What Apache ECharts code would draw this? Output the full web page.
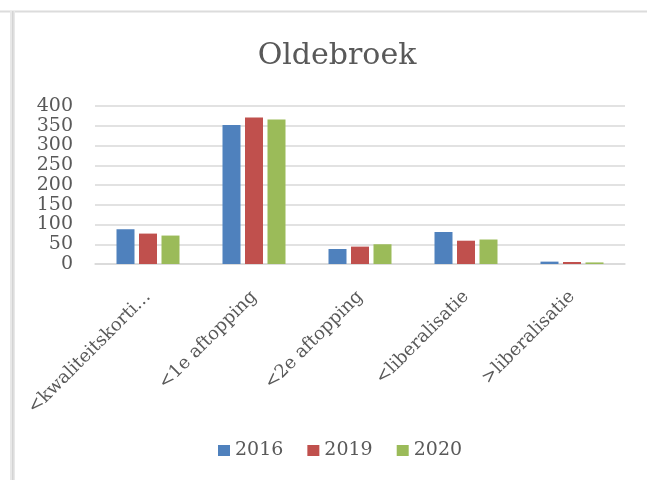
<!DOCTYPE html>
<html>
<head>
<meta charset="utf-8">
<script src="https://cdn.jsdelivr.net/npm/echarts@6/dist/echarts.min.js"></script>
<style>
    html, body { margin: 0; padding: 0; background: #fff; }
    #chart { width: 647px; height: 480px; }
</style>
</head>
<body>
<div id="chart"></div>
<script>
// data
var categories = ['<kwaliteitskorti…', '<1e aftopping', '<2e aftopping', '<liberalisatie', '>liberalisatie'];
var years = ['2016', '2019', '2020'];
var values2016 = [88, 352, 38, 81, 6];
var values2019 = [77, 371, 44, 59, 5];
var values2020 = [72, 366, 50, 62, 4];
var yTicks = { min: 0, max: 400, interval: 50 };

var textColor = '#595959';
var serif = 'DejaVu Serif';

var chart = echarts.init(document.getElementById('chart'));
var option = {
    animation: false,
    color: ['#4F81BD', '#C0504D', '#9BBB59'],
    textStyle: {
        fontFamily: serif,
        color: textColor
    },
    graphic: [{
        type: 'rect',
        shape: { x: 0, y: 10.5, width: 647, height: 2 },
        style: { fill: '#dcdcdc' }
    }, {
        type: 'rect',
        shape: { x: 10, y: 11, width: 5, height: 469 },
        style: { fill: '#e8e8e8' }
    }, {
        type: 'rect',
        shape: { x: 12, y: 11, width: 1.5, height: 469 },
        style: { fill: '#d4d4d4' }
    }],
    title: {
        text: 'Oldebroek',
        left: 332,
        textAlign: 'center',
        top: 36,
        textStyle: {
            fontFamily: serif,
            fontWeight: 'normal',
            fontSize: 30,
            color: textColor
        }
    },
    legend: {
        data: years,
        bottom: 15,
        left: 213,
        itemWidth: 12,
        itemHeight: 11,
        itemGap: 24,
        icon: 'rect',
        textStyle: {
            fontFamily: serif,
            fontSize: 19,
            color: textColor
        }
    },
    grid: {
        left: 95,
        right: 22,
        top: 106,
        bottom: 216
    },
    xAxis: {
        type: 'category',
        data: categories,
        axisLine: { lineStyle: { color: '#d9d9d9', width: 1.5 } },
        axisTick: { show: false },
        axisLabel: {
            interval: 0,
            rotate: 45,
            margin: 30,
            fontFamily: serif,
            fontSize: 18,
            color: textColor
        }
    },
    yAxis: {
        type: 'value',
        min: yTicks.min,
        max: yTicks.max,
        interval: yTicks.interval,
        axisLine: { show: false },
        axisTick: { show: false },
        splitLine: { lineStyle: { color: '#d9d9d9', width: 1.5 } },
        axisLabel: {
            margin: 22,
            fontFamily: serif,
            fontSize: 19,
            color: textColor
        }
    },
    series: [{
        name: years[0],
        type: 'bar',
        data: values2016,
        barWidth: 18,
        barGap: '25%'
    }, {
        name: years[1],
        type: 'bar',
        data: values2019,
        barWidth: 18,
        barGap: '25%'
    }, {
        name: years[2],
        type: 'bar',
        data: values2020,
        barWidth: 18,
        barGap: '25%'
    }]
};
chart.setOption(option);
</script>
</body>
</html>
